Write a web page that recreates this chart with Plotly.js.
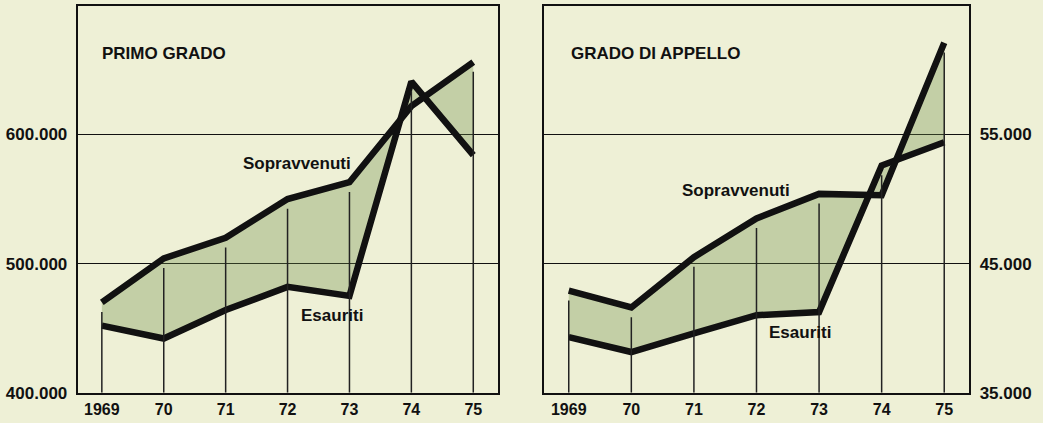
<!DOCTYPE html>
<html lang="it">
<head>
    <meta charset="UTF-8">
    <title>Procedimenti sopravvenuti ed esauriti</title>
    <script src="https://cdn.plot.ly/plotly-3.0.1.min.js"></script>
    <style>
        body { margin: 0; background-color: #eef0d6; }
        #chart { width: 1043px; height: 423px; }
    </style>
</head>
<body>
    <div id="chart"></div>

    <script>
        // anni e dati
        const anni = [1969, 1970, 1971, 1972, 1973, 1974, 1975];
        const etichetteAnni = ['1969', '70', '71', '72', '73', '74', '75'];

        const primoSopravvenuti = [470000, 504000, 520000, 550000, 563000, 622000, 656000];
        const primoEsauriti = [452000, 442000, 464000, 482000, 475000, 641000, 584000];

        const appelloSopravvenuti = [42900, 41600, 45500, 48500, 50400, 50300, 62100];
        const appelloEsauriti = [39300, 38150, 39600, 41000, 41250, 52600, 54400];

        const tickPrimo = [400000, 500000, 600000];
        const tickPrimoTesto = ['400.000', '500.000', '600.000'];
        const tickAppello = [35000, 45000, 55000];
        const tickAppelloTesto = ['35.000', '45.000', '55.000'];

        const rangePrimo = [400000, 699500];
        const rangeAppello = [35000, 64950];

        const font = 'Liberation Sans, Arial, sans-serif';
        const verde = 'rgba(110,140,70,0.33)';

        function coppia(esauriti, sopravvenuti, xa, ya) {
            return [
                {
                    x: anni, y: esauriti, xaxis: xa, yaxis: ya,
                    type: 'scatter', mode: 'lines',
                    line: { color: '#111', width: 6.5 },
                    hoverinfo: 'skip'
                },
                {
                    x: anni, y: sopravvenuti, xaxis: xa, yaxis: ya,
                    type: 'scatter', mode: 'lines',
                    fill: 'tonexty', fillcolor: verde,
                    line: { color: '#111', width: 6.5 },
                    hoverinfo: 'skip'
                }
            ];
        }

        // linee verticali per ogni anno, fino appena sotto la curva superiore
        function verticali(esauriti, sopravvenuti, range, xref, yref) {
            const scarto = (range[1] - range[0]) * 0.025;
            return anni.map((a, i) => ({
                type: 'line', xref: xref, yref: yref, layer: 'above',
                x0: a, x1: a,
                y0: range[0],
                y1: Math.max(esauriti[i], sopravvenuti[i]) - scarto,
                line: { color: '#222', width: 1.5 }
            }));
        }

        const data = [
            ...coppia(primoEsauriti, primoSopravvenuti, 'x', 'y'),
            ...coppia(appelloEsauriti, appelloSopravvenuti, 'x2', 'y2')
        ];

        const asseX = (dominio, ancora) => ({
            domain: dominio, anchor: ancora,
            range: [1968.61, 1975.4],
            tickvals: anni, ticktext: etichetteAnni,
            showgrid: false, zeroline: false,
            showline: true, mirror: true, linecolor: '#111', linewidth: 2,
            ticks: '', ticklabelstandoff: 1,
            tickfont: { family: font, size: 16, color: '#111', weight: 'bold' },
            fixedrange: true
        });

        const asseY = (range, valori, testi, lato, ancora) => ({
            domain: [0.0716, 0.9858], anchor: ancora, side: lato,
            range: range,
            tickvals: valori, ticktext: testi,
            showgrid: true, gridcolor: '#111', gridwidth: 1.5,
            zeroline: false,
            showline: true, mirror: true, linecolor: '#111', linewidth: 2,
            ticks: '', ticklabelstandoff: 5,
            tickfont: { family: font, size: 17, color: '#111', weight: 'bold' },
            fixedrange: true
        });

        const testo = (t, x, y, xref, yref, anchor) => ({
            text: t, x: x, y: y, xref: xref, yref: yref,
            xanchor: anchor, yanchor: 'middle', showarrow: false,
            font: { family: font, size: 17, color: '#111', weight: 'bold' }
        });

        const layout = {
            width: 1043, height: 423,
            margin: { l: 0, r: 0, t: 0, b: 0 },
            paper_bgcolor: '#eef0d6',
            plot_bgcolor: '#eef0d6',
            showlegend: false,
            xaxis: asseX([0.0745, 0.4775], 'y'),
            yaxis: asseY(rangePrimo, tickPrimo, tickPrimoTesto, 'left', 'x'),
            xaxis2: asseX([0.5219, 0.9293], 'y2'),
            yaxis2: asseY(rangeAppello, tickAppello, tickAppelloTesto, 'right', 'x2'),
            shapes: [
                ...verticali(primoEsauriti, primoSopravvenuti, rangePrimo, 'x', 'y'),
                ...verticali(appelloEsauriti, appelloSopravvenuti, rangeAppello, 'x2', 'y2')
            ],
            annotations: [
                testo('PRIMO GRADO', 1968.97, 663000, 'x', 'y', 'left'),
                testo('Sopravvenuti', 1972.15, 577800, 'x', 'y', 'center'),
                testo('Esauriti', 1972.71, 460000, 'x', 'y', 'center'),
                testo('GRADO DI APPELLO', 1969.0, 61300, 'x2', 'y2', 'left'),
                testo('Sopravvenuti', 1971.67, 50680, 'x2', 'y2', 'center'),
                testo('Esauriti', 1972.70, 39670, 'x2', 'y2', 'center')
            ]
        };

        Plotly.newPlot('chart', data, layout, { displayModeBar: false, staticPlot: true });
    </script>
</body>
</html>
